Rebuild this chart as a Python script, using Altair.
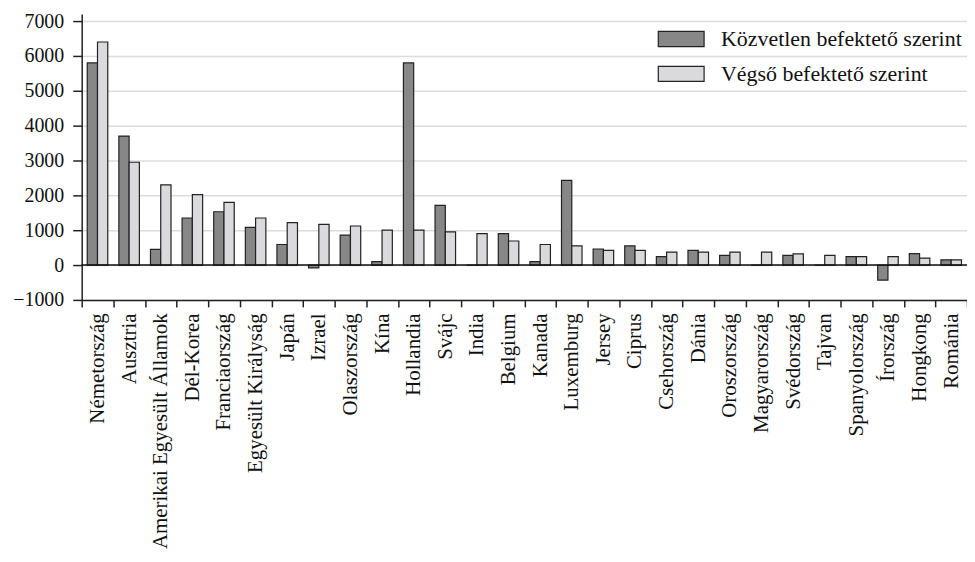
import altair as alt
import pandas as pd

countries = ["Németország", "Ausztria", "Amerikai Egyesült Államok", "Dél-Korea",
             "Franciaország", "Egyesült Királyság", "Japán", "Izrael", "Olaszország",
             "Kína", "Hollandia", "Svájc", "India", "Belgium", "Kanada", "Luxemburg",
             "Jersey", "Ciprus", "Csehország", "Dánia", "Oroszország", "Magyarország",
             "Svédország", "Tajvan", "Spanyolország", "Írország", "Hongkong", "Románia"]
direct = [5800, 3700, 450, 1350, 1530, 1080, 590, -80, 860,
          100, 5800, 1710, 0, 900, 100, 2430,
          460, 550, 240, 420, 280, 0,
          280, 0, 240, -430, 330, 150]
ultimate = [6400, 2950, 2300, 2020, 1800, 1350, 1220, 1170, 1120,
            1000, 1000, 950, 900, 690, 590, 550,
            420, 420, 370, 370, 370, 370,
            320, 280, 240, 240, 200, 150]
series = ["Közvetlen befektető szerint", "Végső befektető szerint"]
colors = ["#878787", "#dadadc"]
y_ticks = [-1000, 0, 1000, 2000, 3000, 4000, 5000, 6000, 7000]

rows = []
for c, d, u in zip(countries, direct, ultimate):
    rows.append({"country": c, "series": series[0], "value": d})
    rows.append({"country": c, "series": series[1], "value": u})
df = pd.DataFrame(rows)
zero_df = pd.DataFrame({"value": [0]})

FONT = "Liberation Serif"

y_axis = alt.Axis(values=y_ticks, format="d", labelFontSize=20, tickSize=9,
                  labelPadding=9, grid=True, labelOverlap=False)
y_scale = alt.Scale(domain=[-1000, 7200], nice=False, zero=False)

bars = alt.Chart(df).mark_bar(stroke="#222222", strokeWidth=1.2).encode(
    x=alt.X("country:N", sort=countries, title=None,
            scale=alt.Scale(paddingInner=0, paddingOuter=0),
            axis=alt.Axis(labelAngle=-90, tickBand="extent", labelFontSize=21,
                          labelPadding=6, tickSize=7, grid=False, labelLimit=400)),
    xOffset=alt.XOffset("series:N", sort=series,
                        scale=alt.Scale(paddingInner=0, paddingOuter=0.54)),
    y=alt.Y("value:Q", title=None, scale=y_scale, axis=y_axis),
    color=alt.Color("series:N", sort=series, title=None,
                    scale=alt.Scale(domain=series, range=colors),
                    legend=alt.Legend(orient="none", legendX=578, legendY=1,
                                      symbolType="M-1,-0.33H1V0.33H-1Z",
                                      symbolSize=2116, symbolStrokeColor="#222222",
                                      symbolStrokeWidth=1.2, symbolOpacity=1,
                                      labelFontSize=22, labelOffset=16, labelLimit=400,
                                      rowPadding=-9, padding=0)),
)

zero = alt.Chart(zero_df).mark_rule(color="#111111", strokeWidth=1.5).encode(
    y=alt.Y("value:Q", title=None, scale=y_scale, axis=y_axis)
)

chart = alt.layer(bars, zero).properties(
    width=889, height=287,
    autosize=alt.AutoSizeParams(type="none"),
    padding={"left": 74, "top": 5, "right": 0, "bottom": 250},
).configure(font=FONT).configure_view(stroke=None).configure_axis(
    domainColor="#222222", domainWidth=1.5, tickColor="#222222", tickWidth=1.5,
    labelColor="#111111", labelFont=FONT, gridColor="#dcdcdc", gridWidth=1.5,
).configure_legend(labelFont=FONT, labelColor="#111111")

chart.save("out.html", embed_options={"renderer": "svg", "actions": False})
